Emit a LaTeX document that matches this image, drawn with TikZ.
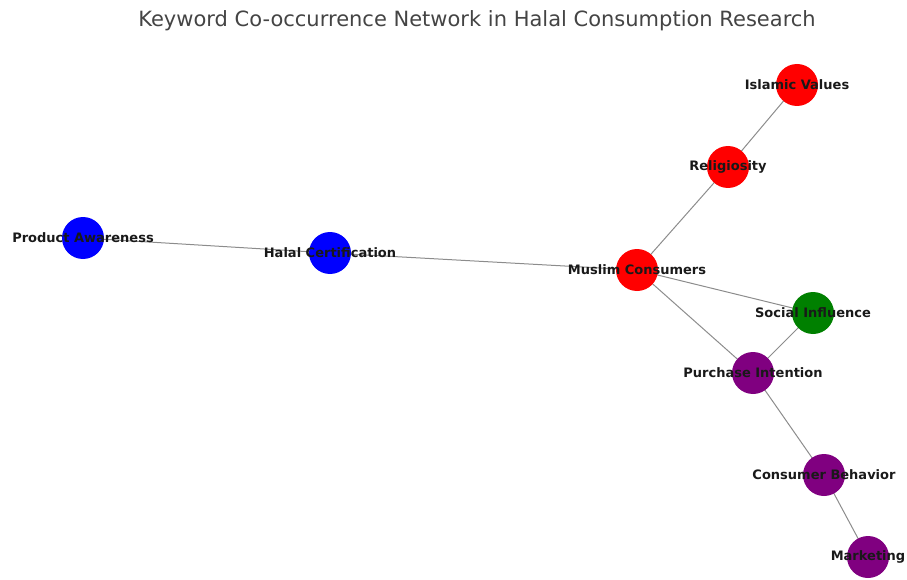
\documentclass[tikz,border=0pt]{standalone}
\usepackage{fontspec}
\setmainfont{DejaVu Sans}
\usetikzlibrary{backgrounds}
\definecolor{titlegray}{HTML}{444444}
\definecolor{edgegray}{HTML}{8C8C8C}
\definecolor{kwgreen}{HTML}{008000}
\definecolor{kwpurple}{HTML}{800080}

\begin{document}
\begin{tikzpicture}[x=1pt, y=-1pt,
      kw/.style={circle, minimum size=42pt, inner sep=0pt, draw=none},
      kwtext/.style={font=\bfseries\fontsize{13}{15}\selectfont, text=black!90},
      link/.style={draw=edgegray, line width=1pt}
    ]
    \useasboundingbox (0,0) rectangle (907,580);

    % Title
    \node[font=\fontsize{21}{25}\selectfont, text=titlegray] (title) at (477,21) {Keyword Co-occurrence Network in Halal Consumption Research};

    % Red cluster
    \node[kw, fill=red, label={[kwtext]center:Islamic Values}] (islamic) at (797,85) {};
    \node[kw, fill=red, label={[kwtext]center:Religiosity}] (religiosity) at (728,167) {};
    \node[kw, fill=red, label={[kwtext]center:Muslim Consumers}] (muslim) at (637,270) {};

    % Blue cluster
    \node[kw, fill=blue, label={[kwtext]center:Product Awareness}] (awareness) at (83,238) {};
    \node[kw, fill=blue, label={[kwtext]center:Halal Certification}] (certification) at (330,253) {};

    % Green
    \node[kw, fill=kwgreen, label={[kwtext]center:Social Influence}] (social) at (813,313) {};

    % Purple cluster
    \node[kw, fill=kwpurple, label={[kwtext]center:Purchase Intention}] (purchase) at (753,373) {};
    \node[kw, fill=kwpurple, label={[kwtext]center:Consumer Behavior}] (behavior) at (824,475) {};
    \node[kw, fill=kwpurple, label={[kwtext]center:Marketing}] (marketing) at (868,557) {};

    % Edges
    \begin{scope}[on background layer]
      \draw[link] (islamic.center) -- (religiosity.center);
      \draw[link] (religiosity.center) -- (muslim.center);
      \draw[link] (awareness.center) -- (certification.center);
      \draw[link] (certification.center) -- (muslim.center);
      \draw[link] (muslim.center) -- (social.center);
      \draw[link] (muslim.center) -- (purchase.center);
      \draw[link] (social.center) -- (purchase.center);
      \draw[link] (purchase.center) -- (behavior.center);
      \draw[link] (behavior.center) -- (marketing.center);
    \end{scope}
  \end{tikzpicture}
\end{document}
